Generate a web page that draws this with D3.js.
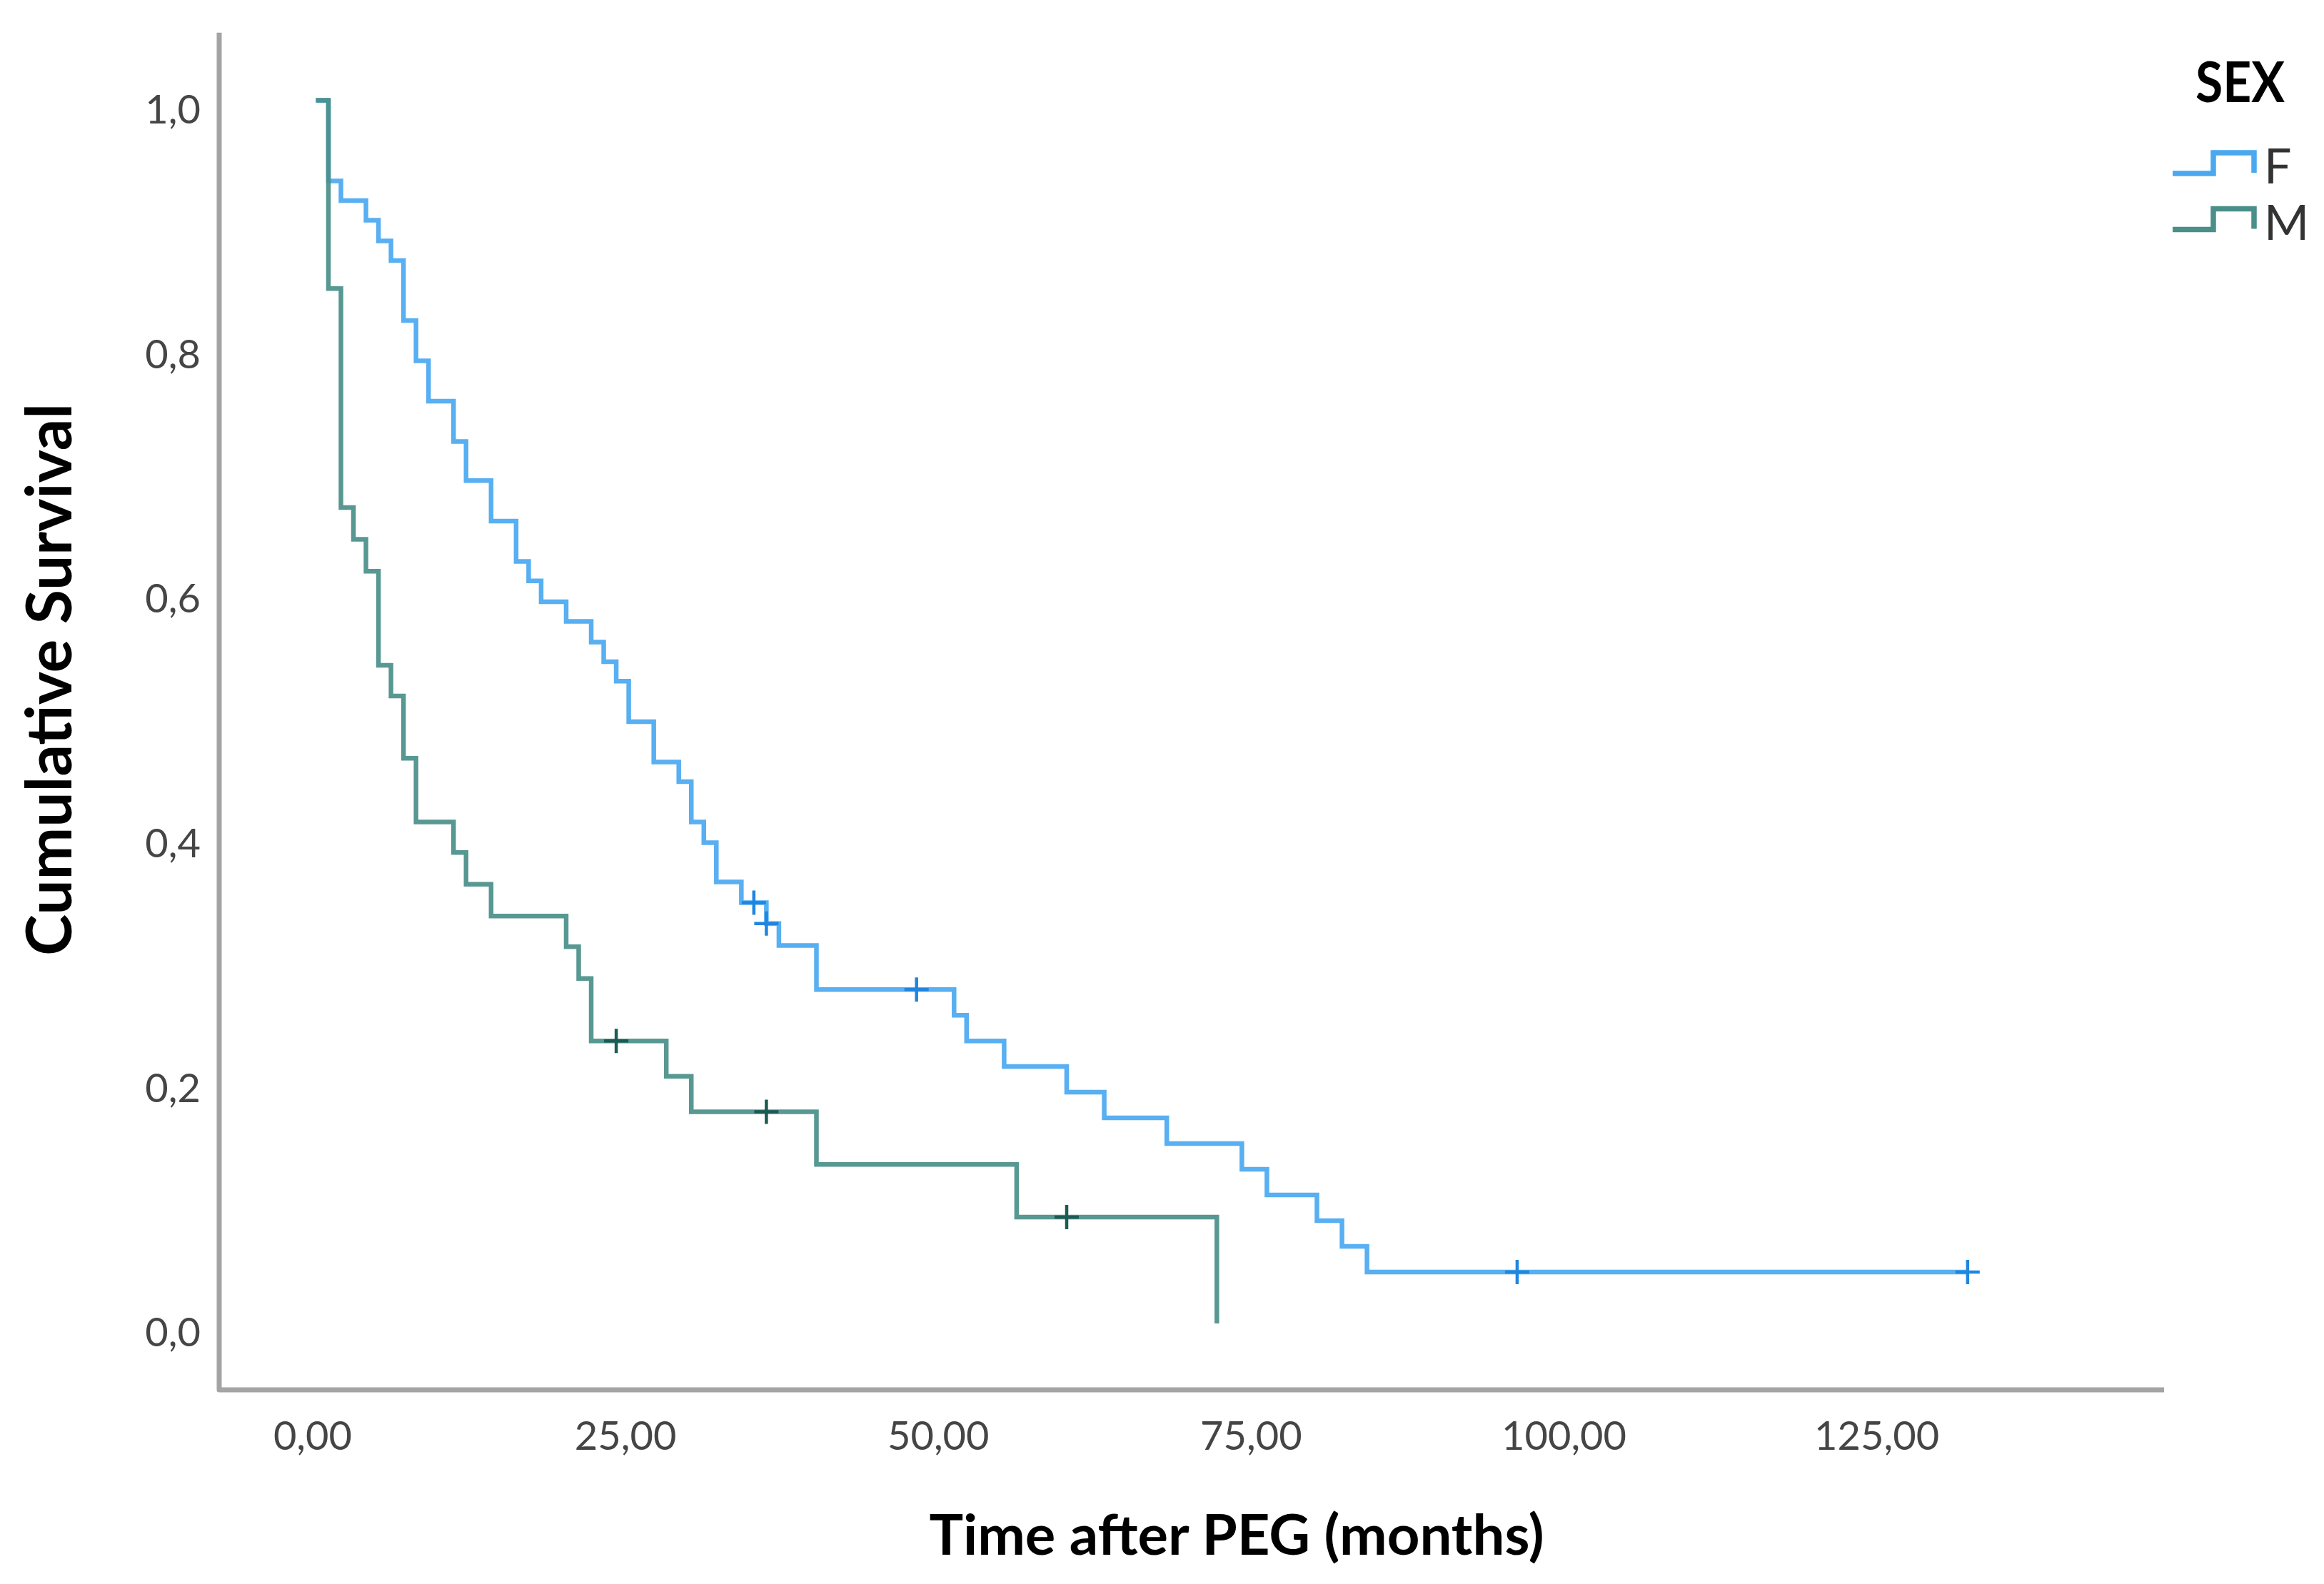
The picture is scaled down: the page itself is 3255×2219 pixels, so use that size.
<!DOCTYPE html>
<html>
<head>
<meta charset="utf-8">
<script src="https://cdn.jsdelivr.net/npm/d3@7"></script>
<style>
  html, body { margin: 0; padding: 0; background: #ffffff; }
  svg { display: block; }
</style>
</head>
<body>
<svg id="chart" width="3255" height="2219"></svg>
<script>
// ---------------- data ----------------
const seriesNames = ["F", "M"];

// Female: event times (months) and survival after each step
const F_time = [1, 2, 4, 5, 6, 7, 8, 9, 11, 12, 14, 16, 17, 18, 20, 22, 23, 24, 25, 27,
                29, 30, 31, 32, 34, 36, 37, 40, 51, 52, 55, 60, 63, 68, 74, 76, 80, 82, 84];
const F_surv = [0.934, 0.918, 0.902, 0.885, 0.869, 0.820, 0.787, 0.754, 0.721, 0.689,
                0.656, 0.623, 0.607, 0.590, 0.574, 0.557, 0.541, 0.525, 0.492, 0.459,
                0.443, 0.410, 0.393, 0.361, 0.344, 0.327, 0.309, 0.273, 0.252, 0.231,
                0.210, 0.189, 0.168, 0.147, 0.126, 0.105, 0.084, 0.063, 0.042];
const F_end = 132;
const F_censor = [35, 36, 48, 96, 132];

// Male
const M_time = [1, 2, 3, 4, 5, 6, 7, 8, 11, 12, 14, 20, 21, 22, 28, 30, 40, 56, 72];
const M_surv = [0.846, 0.667, 0.641, 0.615, 0.538, 0.513, 0.462, 0.410, 0.385, 0.359,
                0.333, 0.308, 0.282, 0.231, 0.202, 0.173, 0.130, 0.087, 0.0];
const M_end = 72;
const M_censor = [24, 36, 60];

const xTicks = [0, 25, 50, 75, 100, 125];
const yTicks = [0, 0.2, 0.4, 0.6, 0.8, 1.0];

const xTitle = "Time after PEG (months)";
const yTitle = "Cumulative  Survival";
const legendTitle = "SEX";

// ---------------- styling ----------------
const colF = "#4aa8f0", colFc = "#1f86e0";
const colM = "#4a8f89", colMc = "#1c5a54";
const axisCol = "#a4a4a4";
const tickCol = "#454545";

const svg = d3.select("#chart");

const x = d3.scaleLinear().domain([-7.73, 147.7]).range([307, 3031]);
const y = d3.scaleLinear().domain([-0.0543, 1.0553]).range([1947, 45.7]);

// axes lines (L shape)
svg.append("path")
  .attr("d", `M${x.range()[0]},${y.range()[1]} L${x.range()[0]},${y.range()[0]} L${x.range()[1]},${y.range()[0]}`)
  .attr("fill", "none")
  .attr("stroke", axisCol)
  .attr("stroke-width", 7)
  .attr("stroke-linejoin", "round");

const fmtX = d => d3.format(".2f")(d).replace(".", ",");
const fmtY = d => d3.format(".1f")(d).replace(".", ",");

const gx = svg.append("g")
  .attr("transform", `translate(0,${y.range()[0]})`)
  .call(d3.axisBottom(x).tickValues(xTicks).tickSize(0).tickPadding(44).tickFormat(fmtX));
gx.select(".domain").remove();
gx.selectAll("text")
  .attr("font-family", "Lato, 'Open Sans', sans-serif")
  .attr("font-size", 56)
  .attr("fill", tickCol)
  .attr("dx", -5);

const gy = svg.append("g")
  .attr("transform", `translate(${x.range()[0]},0)`)
  .call(d3.axisLeft(y).tickValues(yTicks).tickSize(0).tickPadding(26).tickFormat(fmtY));
gy.select(".domain").remove();
gy.selectAll("text")
  .attr("font-family", "Lato, 'Open Sans', sans-serif")
  .attr("font-size", 56)
  .attr("fill", tickCol)
  .attr("dy", "0.57em");

// ---------------- curves ----------------
function buildPoints(times, survs, end) {
  const pts = [[0, 1]];
  times.forEach((t, i) => pts.push([t, survs[i]]));
  if (end > times[times.length - 1]) pts.push([end, survs[survs.length - 1]]);
  return pts;
}
function survAt(times, survs, t) {
  let s = 1;
  times.forEach((ti, i) => { if (ti <= t) s = survs[i]; });
  return s;
}

const line = d3.line()
  .x(d => x(d[0]))
  .y(d => y(d[1]))
  .curve(d3.curveStepAfter);

const series = [
  { name: seriesNames[0], pts: buildPoints(F_time, F_surv, F_end), color: colF, cColor: colFc,
    censor: F_censor.map(t => [t, survAt(F_time, F_surv, t)]) },
  { name: seriesNames[1], pts: buildPoints(M_time, M_surv, M_end), color: colM, cColor: colMc,
    censor: M_censor.map(t => [t, survAt(M_time, M_surv, t)]) }
];

series.forEach(s => {
  svg.append("path")
    .datum(s.pts)
    .attr("d", line)
    .attr("fill", "none")
    .attr("stroke", s.color)
    .attr("stroke-width", 6.5)
    .attr("stroke-opacity", 0.92)
    .attr("stroke-linejoin", "miter");
});

const half = 17;
series.forEach(s => {
  const g = svg.append("g");
  g.selectAll("path.c")
    .data(s.censor)
    .enter().append("path")
    .attr("d", d => {
      const cx = x(d[0]), cy = y(d[1]);
      return `M${cx - half},${cy} L${cx + half},${cy} M${cx},${cy - half} L${cx},${cy + half}`;
    })
    .attr("stroke", s.cColor)
    .attr("stroke-width", 4.5)
    .attr("fill", "none");
});

// ---------------- titles ----------------
svg.append("text")
  .attr("x", 1732).attr("y", 2178)
  .attr("text-anchor", "middle")
  .attr("font-family", "Lato, 'Open Sans', sans-serif")
  .attr("font-weight", "bold")
  .attr("font-size", 78)
  .attr("textLength", 861)
  .attr("lengthAdjust", "spacingAndGlyphs")
  .attr("fill", "#000")
  .text(xTitle);

svg.append("text")
  .attr("transform", "translate(100,952) rotate(-90)")
  .attr("text-anchor", "middle")
  .attr("font-family", "Lato, 'Open Sans', sans-serif")
  .attr("font-weight", "bold")
  .attr("font-size", 88)
  .attr("textLength", 774)
  .attr("lengthAdjust", "spacingAndGlyphs")
  .attr("fill", "#000")
  .text(yTitle);

// ---------------- legend ----------------
const lg = svg.append("g");
lg.append("text")
  .attr("x", 3075).attr("y", 143)
  .attr("font-family", "Lato, 'Open Sans', sans-serif")
  .attr("font-weight", "bold")
  .attr("font-size", 78)
  .attr("textLength", 125)
  .attr("lengthAdjust", "spacingAndGlyphs")
  .attr("fill", "#000")
  .text(legendTitle);

series.forEach((s, i) => {
  const base = 243 + i * 78.5;
  lg.append("path")
    .attr("d", `M3043,${base} L3100,${base} L3100,${base - 29} L3157,${base - 29} L3157,${base - 1}`)
    .attr("fill", "none")
    .attr("stroke", s.color)
    .attr("stroke-width", 7.5);
  lg.append("text")
    .attr("x", 3171).attr("y", base + 14)
    .attr("font-family", "Lato, 'Open Sans', sans-serif")
    .attr("font-size", 68)
    .attr("fill", "#333")
    .text(s.name);
});
</script>
</body>
</html>
